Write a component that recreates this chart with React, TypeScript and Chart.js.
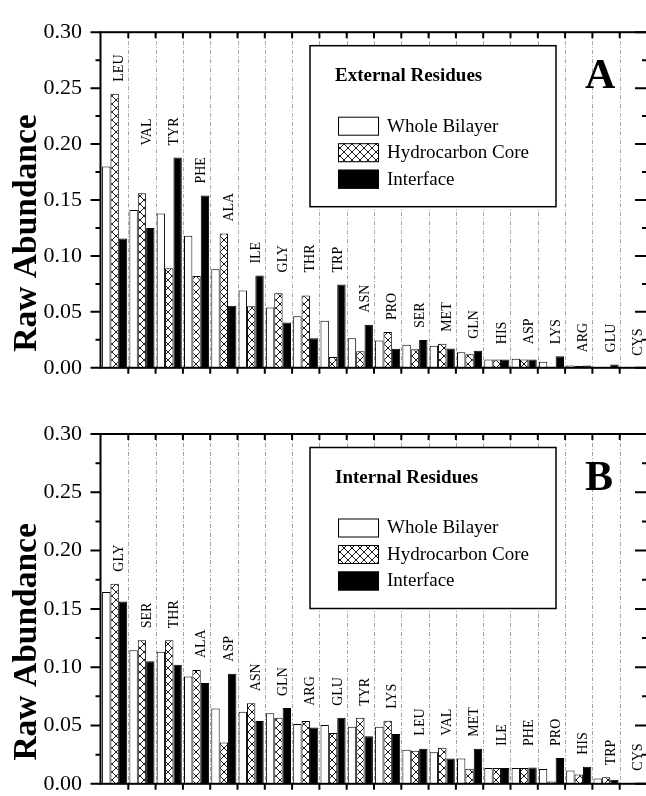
import React, { useEffect, useRef } from 'react';
import { Chart, registerables } from 'chart.js';

Chart.register(...registerables);

// ---------- data ----------
const categoriesA = ['LEU', 'VAL', 'TYR', 'PHE', 'ALA', 'ILE', 'GLY', 'THR', 'TRP', 'ASN', 'PRO', 'SER', 'MET', 'GLN', 'HIS', 'ASP', 'LYS', 'ARG', 'GLU', 'CYS'];
const wholeA = [0.180, 0.141, 0.138, 0.118, 0.088, 0.069, 0.054, 0.046, 0.042, 0.0265, 0.0245, 0.0205, 0.0197, 0.0138, 0.0075, 0.008, 0.0055, 0.002, 0.0005, 0];
const coreA = [0.245, 0.156, 0.089, 0.082, 0.120, 0.055, 0.0667, 0.0647, 0.0096, 0.0147, 0.032, 0.0166, 0.0214, 0.0122, 0.0075, 0.0075, 0.001, 0.0015, 0.0005, 0];
const interfaceA = [0.1156, 0.125, 0.188, 0.154, 0.0554, 0.0824, 0.0405, 0.0264, 0.0745, 0.0385, 0.017, 0.0248, 0.0172, 0.0152, 0.0075, 0.0075, 0.0104, 0.002, 0.003, 0];

const categoriesB = ['GLY', 'SER', 'THR', 'ALA', 'ASP', 'ASN', 'GLN', 'ARG', 'GLU', 'TYR', 'LYS', 'LEU', 'VAL', 'MET', 'ILE', 'PHE', 'PRO', 'HIS', 'TRP', 'CYS'];
const wholeB = [0.1645, 0.1146, 0.1133, 0.0921, 0.0645, 0.0617, 0.0606, 0.0512, 0.0504, 0.049, 0.049, 0.0292, 0.027, 0.0216, 0.0135, 0.0135, 0.0127, 0.0115, 0.0045, 0.0005];
const coreB = [0.1716, 0.1231, 0.1231, 0.0975, 0.0355, 0.069, 0.0566, 0.0538, 0.0436, 0.0566, 0.054, 0.0284, 0.031, 0.0129, 0.0135, 0.0135, 0.002, 0.0079, 0.0056, 0];
const interfaceB = [0.1564, 0.1051, 0.102, 0.0865, 0.0944, 0.0538, 0.065, 0.0482, 0.0566, 0.0408, 0.0428, 0.030, 0.0216, 0.030, 0.0135, 0.014, 0.0222, 0.0146, 0.0034, 0.001];

const seriesNames = ['Whole Bilayer', 'Hydrocarbon Core', 'Interface'];
const yTickLabels = ['0.00', '0.05', '0.10', '0.15', '0.20', '0.25', '0.30'];
const yMinorStep = 0.025;
const yMax = 0.3;
const yTitle = 'Raw Abundance';

const SERIF = '"Liberation Serif", "Times New Roman", Times, serif';

function makeHatch(ctx: CanvasRenderingContext2D): CanvasPattern {
  const c = document.createElement('canvas');
  c.width = 8;
  c.height = 8;
  const g = c.getContext('2d')!;
  g.fillStyle = '#fff';
  g.fillRect(0, 0, 8, 8);
  g.strokeStyle = '#000';
  g.lineWidth = 0.9;
  g.beginPath();
  g.moveTo(-1, -1);
  g.lineTo(9, 9);
  g.moveTo(9, -1);
  g.lineTo(-1, 9);
  g.stroke();
  return ctx.createPattern(c, 'repeat')!;
}

type PanelProps = {
  labels: string[];
  series: number[][];
  title: string;
  letter: string;
  top: number;
  height: number;
  padTop: number;
  padBottom: number;
};

function Panel({ labels, series, title, letter, top, height, padTop, padBottom }: PanelProps) {
  const ref = useRef<HTMLCanvasElement>(null);

  useEffect(() => {
    const canvas = ref.current!;
    const ctx0 = canvas.getContext('2d')!;
    const hatch = makeHatch(ctx0);
    const fills = ['#ffffff', hatch, '#000000'];

    const boundaries = (chart: any) => {
      const xs = chart.scales.x;
      const half = (xs.getPixelForValue(1) - xs.getPixelForValue(0)) / 2;
      const out: number[] = [];
      for (let k = 0; k < labels.length; k++) out.push(xs.getPixelForValue(k) + half);
      return out;
    };

    const decor = {
      id: 'decor',
      beforeDatasetsDraw(chart: any) {
        const { ctx, chartArea } = chart;
        ctx.save();
        ctx.strokeStyle = 'rgba(0,0,0,0.45)';
        ctx.lineWidth = 0.8;
        ctx.setLineDash([4, 2, 1, 2]);
        boundaries(chart).forEach((bx: number, k: number) => {
          if (k === labels.length - 1) return;
          ctx.beginPath();
          ctx.moveTo(Math.round(bx) + 0.5, chartArea.top);
          ctx.lineTo(Math.round(bx) + 0.5, chartArea.bottom);
          ctx.stroke();
        });
        ctx.restore();
      },
      afterDraw(chart: any) {
        const { ctx, chartArea } = chart;
        const { left, right, top: t, bottom: b } = chartArea;
        const ys = chart.scales.y;
        const xs = chart.scales.x;
        ctx.save();

        // frame
        ctx.strokeStyle = '#000';
        ctx.lineWidth = 2;
        ctx.strokeRect(left - 0.5, t, right - left + 0.5, b - t);

        // y ticks (left outward, right inward)
        const nMinor = Math.round(yMax / yMinorStep);
        for (let i = 0; i <= nMinor; i++) {
          const y = ys.getPixelForValue(i * yMinorStep);
          const major = i % 2 === 0;
          ctx.beginPath();
          ctx.moveTo(left - 0.5, y);
          ctx.lineTo(left - 0.5 - (major ? 10 : 5), y);
          ctx.moveTo(right, y);
          ctx.lineTo(right - (major ? 12 : 5), y);
          ctx.stroke();
        }
        // x ticks at category boundaries
        boundaries(chart).forEach((bx: number) => {
          ctx.beginPath();
          ctx.moveTo(bx, t);
          ctx.lineTo(bx, t + 6);
          ctx.moveTo(bx, b);
          ctx.lineTo(bx, b + 6);
          ctx.stroke();
        });

        // category labels
        ctx.fillStyle = '#000';
        ctx.font = `14px ${SERIF}`;
        ctx.textAlign = 'left';
        ctx.textBaseline = 'middle';
        for (let i = 0; i < labels.length; i++) {
          let m = 0;
          for (let j = i; j < labels.length; j++) {
            for (const s of series) m = Math.max(m, s[j]);
          }
          const yb = ys.getPixelForValue(m) - 12;
          const x = xs.getPixelForValue(i) + 5;
          ctx.save();
          ctx.translate(x, yb);
          ctx.rotate(-Math.PI / 2);
          ctx.fillText(labels[i], 0, 0);
          ctx.restore();
        }

        // legend box
        const bx = left + 209;
        const by = t + 13.5;
        const bw = 246;
        const bh = 161;
        ctx.fillStyle = '#fff';
        ctx.fillRect(bx, by, bw, bh);
        ctx.lineWidth = 1.5;
        ctx.strokeStyle = '#000';
        ctx.strokeRect(bx, by, bw, bh);
        ctx.fillStyle = '#000';
        ctx.font = `bold 19px ${SERIF}`;
        ctx.textAlign = 'left';
        ctx.textBaseline = 'alphabetic';
        ctx.fillText(title, bx + 25, by + 35);
        ctx.font = `19px ${SERIF}`;
        ctx.textBaseline = 'middle';
        for (let i = 0; i < 3; i++) {
          const sy = by + 71 + i * 26.5;
          ctx.fillStyle = fills[i] as any;
          ctx.fillRect(bx + 28, sy, 41, 19);
          ctx.lineWidth = 1;
          ctx.strokeStyle = '#000';
          ctx.strokeRect(bx + 28.5, sy + 0.5, 40, 18);
          ctx.fillStyle = '#000';
          ctx.fillText(seriesNames[i], bx + 77, sy + 10);
        }

        // panel letter
        ctx.font = `bold 42px ${SERIF}`;
        ctx.textBaseline = 'alphabetic';
        ctx.textAlign = 'left';
        ctx.fillText(letter, right - 62, t + 56);

        // y-axis title
        ctx.save();
        ctx.translate(27, (t + b) / 2 + 33);
        ctx.rotate(-Math.PI / 2);
        ctx.font = `bold 33.5px ${SERIF}`;
        ctx.textAlign = 'center';
        ctx.textBaseline = 'middle';
        ctx.fillText(yTitle, 0, 0);
        ctx.restore();

        ctx.restore();
      },
    };

    const chart = new Chart(canvas, {
      type: 'bar',
      data: {
        labels,
        datasets: series.map((d, i) => ({
          label: seriesNames[i],
          data: d,
          backgroundColor: fills[i] as any,
          borderColor: '#000',
          borderWidth: 1,
          categoryPercentage: 0.92,
          barPercentage: 1,
        })),
      },
      options: {
        responsive: false,
        animation: false,
        devicePixelRatio: 1,
        layout: { padding: { left: 0, right: 9, top: padTop, bottom: padBottom } },
        plugins: { legend: { display: false }, tooltip: { enabled: false } },
        scales: {
          x: { display: false, offset: true },
          y: {
            min: 0,
            max: yMax,
            afterFit: (s: any) => {
              s.width = 101;
            },
            grid: { display: false, drawTicks: false },
            border: { display: false },
            ticks: {
              stepSize: 0.05,
              padding: 19,
              color: '#000',
              font: { family: SERIF, size: 22 },
              callback: (_v: any, idx: number) => yTickLabels[idx],
            },
          },
        },
      },
      plugins: [decor],
    });

    let alive = true;
    const fontsToLoad = [
      `14px "Liberation Serif"`,
      `19px "Liberation Serif"`,
      `22px "Liberation Serif"`,
      `bold 19px "Liberation Serif"`,
      `bold 32px "Liberation Serif"`,
    ];
    Promise.all(fontsToLoad.map((f) => (document as any).fonts.load(f)))
      .then(() => {
        if (alive) chart.update();
      })
      .catch(() => {});

    return () => {
      alive = false;
      chart.destroy();
    };
  }, []);

  return (
    <canvas
      ref={ref}
      width={656}
      height={height}
      style={{ position: 'absolute', left: 0, top, width: 656, height }}
    />
  );
}

export default function App() {
  useEffect(() => {
    document.body.style.margin = '0';
    document.body.style.overflow = 'hidden';
    document.body.style.background = '#fff';
  }, []);
  return (
    <div style={{ position: 'relative', width: 646, height: 796, overflow: 'hidden', background: '#fff' }}>
      <span style={{ position: 'absolute', left: -1000, fontFamily: '"Liberation Serif"' }}>
        Aa <b>Bb</b>
      </span>
      <Panel
        labels={categoriesA}
        series={[wholeA, coreA, interfaceA]}
        title="External Residues"
        letter="A"
        top={0}
        height={400}
        padTop={22}
        padBottom={22}
      />
      <Panel
        labels={categoriesB}
        series={[wholeB, coreB, interfaceB]}
        title="Internal Residues"
        letter="B"
        top={396}
        height={420}
        padTop={38}
        padBottom={27}
      />
    </div>
  );
}
